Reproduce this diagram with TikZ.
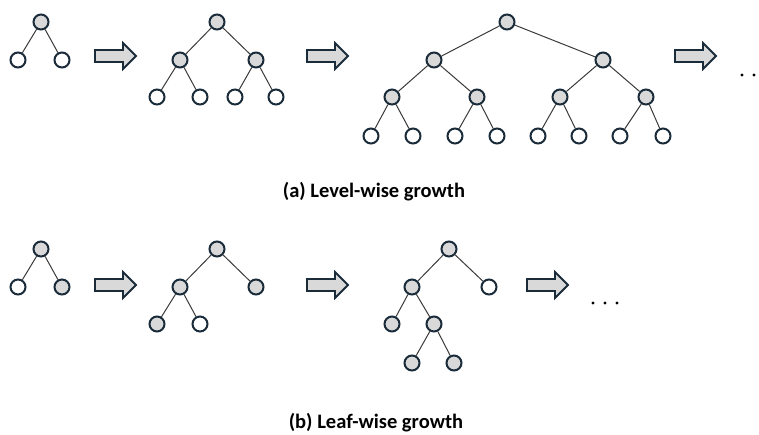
\documentclass[tikz,border=0pt]{standalone}
\usepackage{fontspec}
\setmainfont{Carlito}
\definecolor{nodefill}{HTML}{D9D9D9}
\definecolor{nodeline}{HTML}{1A2B3A}
\definecolor{edgeline}{HTML}{3A3A3A}
\begin{document}
\begin{tikzpicture}[x=1pt,y=-1pt,
  tn/.style={circle,draw=nodeline,line width=2pt,minimum size=15pt,inner sep=0pt},
  gn/.style={tn,fill=nodefill},
  wn/.style={tn,fill=white},
  edge/.style={draw=edgeline,line width=1pt},
  blockarrow/.style={draw=nodeline,fill=nodefill,line width=1.8pt,line join=miter},
  captext/.style={font=\bfseries\fontsize{20.5}{24}\selectfont,text=black},
  dotmark/.style={circle,fill=black,inner sep=0pt,minimum size=3.4pt}]
\useasboundingbox (0,0) rectangle (759,435);
\clip (0,0) rectangle (759,435);
% ---------- (a) level-wise ----------
% tree 1
\node[gn] (a1r) at (41,22) {};
\node[wn] (a1l) at (18,60) {};
\node[wn] (a1rr) at (62,60) {};
\draw[edge] (a1r) -- (a1l) (a1r) -- (a1rr);
% tree 2
\node[gn] (a2r) at (217,22) {};
\node[gn] (a2a) at (180,60) {};
\node[gn] (a2b) at (256,60) {};
\node[wn] (a2c) at (157,97) {};
\node[wn] (a2d) at (200,97) {};
\node[wn] (a2e) at (235,97) {};
\node[wn] (a2f) at (276,97) {};
\draw[edge] (a2r) -- (a2a) (a2r) -- (a2b) (a2a) -- (a2c) (a2a) -- (a2d) (a2b) -- (a2e) (a2b) -- (a2f);
% tree 3
\node[gn] (a3r) at (507,22) {};
\node[gn] (a3a) at (434,60) {};
\node[gn] (a3b) at (603,60) {};
\node[gn] (a3c) at (392,97) {};
\node[gn] (a3d) at (477,97) {};
\node[gn] (a3e) at (560,97) {};
\node[gn] (a3f) at (646,97) {};
\node[wn] (a3g) at (371,136) {};
\node[wn] (a3h) at (413,136) {};
\node[wn] (a3i) at (455,136) {};
\node[wn] (a3j) at (497,136) {};
\node[wn] (a3k) at (538,136) {};
\node[wn] (a3l) at (579,136) {};
\node[wn] (a3m) at (620,136) {};
\node[wn] (a3n) at (663,136) {};
\draw[edge] (a3r) -- (a3a) (a3r) -- (a3b)
  (a3a) -- (a3c) (a3a) -- (a3d) (a3b) -- (a3e) (a3b) -- (a3f)
  (a3c) -- (a3g) (a3c) -- (a3h) (a3d) -- (a3i) (a3d) -- (a3j)
  (a3e) -- (a3k) (a3e) -- (a3l) (a3f) -- (a3m) (a3f) -- (a3n);
% arrows
\foreach \x/\y in {95/56, 307/56, 675/56, 95/285, 307/285, 527/285}{
  \draw[blockarrow] (\x,\y-6) -- (\x+28,\y-6) -- (\x+28,\y-13) -- (\x+41,\y)
    -- (\x+28,\y+13) -- (\x+28,\y+6) -- (\x,\y+6) -- cycle;
}
\node[dotmark] (ad1) at (742,75) {};
\node[dotmark] (ad2) at (754,75) {};
\node[captext] (capa) at (374,192) {(a) Level-wise growth};
% ---------- (b) leaf-wise ----------
\node[gn] (b1r) at (41,249) {};
\node[wn] (b1l) at (18,287) {};
\node[gn] (b1rr) at (62,287) {};
\draw[edge] (b1r) -- (b1l) (b1r) -- (b1rr);
\node[gn] (b2r) at (217,249) {};
\node[gn] (b2a) at (180,287) {};
\node[gn] (b2b) at (256,287) {};
\node[gn] (b2c) at (157,324) {};
\node[wn] (b2d) at (200,324) {};
\draw[edge] (b2r) -- (b2a) (b2r) -- (b2b) (b2a) -- (b2c) (b2a) -- (b2d);
\node[gn] (b3r) at (449,249) {};
\node[gn] (b3a) at (412,287) {};
\node[wn] (b3b) at (489,287) {};
\node[gn] (b3c) at (392,324) {};
\node[gn] (b3d) at (434,324) {};
\node[gn] (b3e) at (412,363) {};
\node[gn] (b3f) at (454,363) {};
\draw[edge] (b3r) -- (b3a) (b3r) -- (b3b) (b3a) -- (b3c) (b3a) -- (b3d) (b3d) -- (b3e) (b3d) -- (b3f);
\node[dotmark] (bd1) at (593,303) {};
\node[dotmark] (bd2) at (605,303) {};
\node[dotmark] (bd3) at (617,303) {};
\node[captext] (capb) at (376,423) {(b) Leaf-wise growth};
\end{tikzpicture}
\end{document}
